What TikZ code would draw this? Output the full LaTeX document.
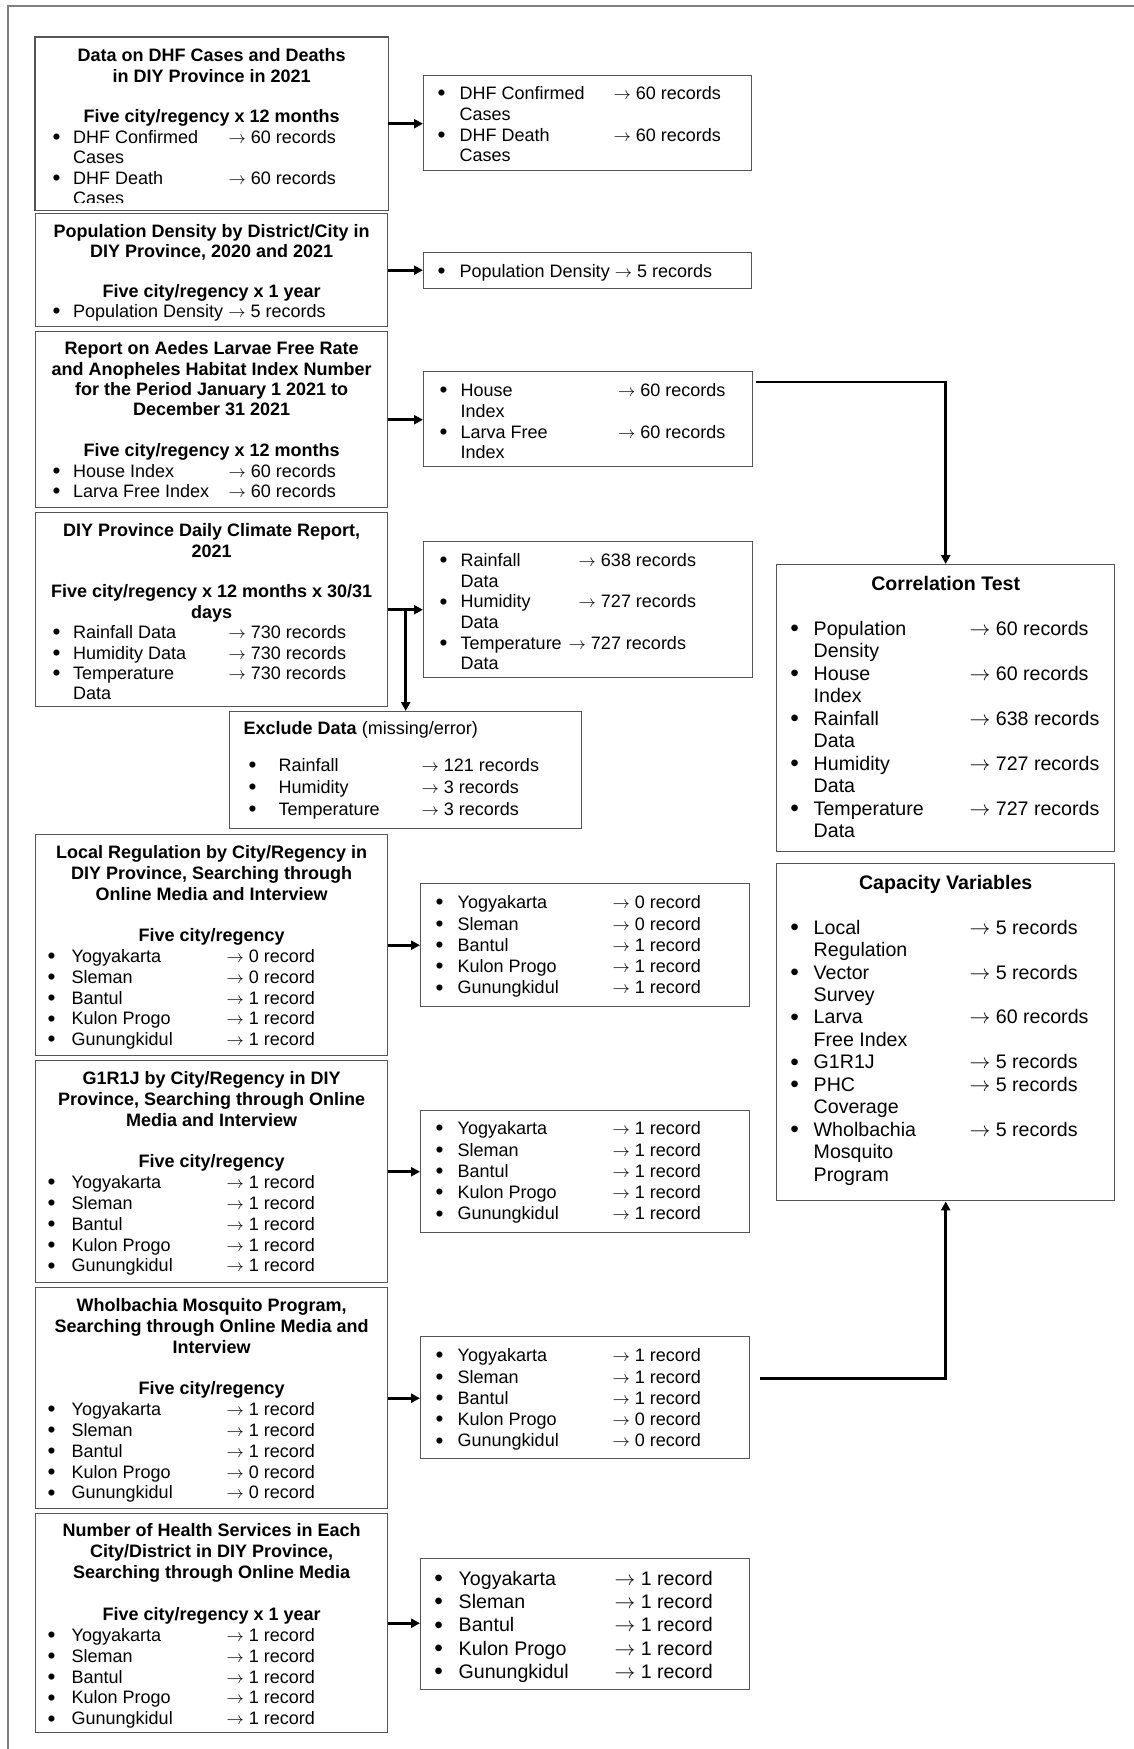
\documentclass[tikz,border=0pt]{standalone}
\usepackage{fontspec}
\usepackage{graphicx}
\setmainfont{Liberation Sans}
\usetikzlibrary{arrows.meta}
\definecolor{boxgray}{RGB}{85,85,85}
\definecolor{framegray}{RGB}{128,128,128}
\tikzset{
    srcbox/.style={draw=boxgray, line width=1.4pt, inner sep=0pt, anchor=north west},
    flow/.style={-{Triangle[length=9pt,width=9pt]}, line width=2.8pt}
}
\newlength\bulx
\newlength\namx
\newlength\arrx
\newcommand{\setcols}[3]{\setlength\bulx{#1pt}\setlength\namx{#2pt}\setlength\arrx{#3pt}}
\newcommand{\fsz}[2]{\fontsize{#1pt}{#2pt}\selectfont}
\newcommand{\basefirst}[1]{\rule{0pt}{#1pt}}
\newcommand{\dotmark}{\raisebox{-0.07em}{\scalebox{1.25}{\textbullet}}}
\newcommand{\ra}{$\rightarrow$}
\newcommand{\boxtext}[3]{\begin{minipage}[t][#2pt][t]{#1pt}#3\end{minipage}}
\newcommand{\rowitem}[2]{\par\noindent\hspace*{\bulx}\makebox[\dimexpr\namx-\bulx\relax][l]{\dotmark}\makebox[\dimexpr\arrx-\namx\relax][l]{#1}#2\par}
\newcommand{\rowmore}[1]{\par\noindent\hspace*{\namx}#1\par}
\newcommand{\rowtext}[1]{\par\noindent\hspace*{\bulx}\makebox[\dimexpr\namx-\bulx\relax][l]{\dotmark}#1\par}
\newcommand{\boxtitle}[1]{{\centering\bfseries #1\par}}

\begin{document}
\begin{tikzpicture}[x=1pt,y=-1pt]
    \useasboundingbox (0,0) rectangle (1134,1749);
    % page frame
    \draw[framegray, line width=1.2pt] (8,1749) -- (8,6) -- (1134,6);

    % data sources (left column)
    \begin{scope}
        \clip (30,30) rectangle (395,202);
        \node[srcbox, draw=none] (dhf) at (35,37) {\boxtext{352}{172}{\fsz{18}{20.4}\setcols{17}{37.5}{193}%
            \boxtitle{\basefirst{24}Data on DHF Cases and Deaths\\ in DIY Province in 2021}
            \vspace{\baselineskip}
            \boxtitle{Five city/regency x 12 months}
            \rowitem{DHF Confirmed}{\ra\ 60 records}
            \rowmore{Cases}
            \rowitem{DHF Death}{\ra\ 60 records}
            \rowmore{Cases}}};
    \end{scope}
    \draw[boxgray, line width=1.4pt] (dhf.north west) rectangle (dhf.south east);

    \node[srcbox] (density) at (35,213) {\boxtext{352}{113}{\fsz{18}{20}\setcols{17}{37.5}{193}%
        \boxtitle{\basefirst{23.7}Population Density by District/City in\\ DIY Province, 2020 and 2021}
        \vspace{\baselineskip}
        \boxtitle{Five city/regency x 1 year}
        \rowtext{Population Density \ra\ 5 records}}};

    \node[srcbox] (larvae) at (35,331) {\boxtext{352}{176}{\fsz{18}{20.4}\setcols{17}{37.5}{193}%
        \boxtitle{\basefirst{23}Report on Aedes Larvae Free Rate\\ and Anopheles Habitat Index Number\\ for the Period January 1 2021 to\\ December 31 2021}
        \vspace{\baselineskip}
        \boxtitle{Five city/regency x 12 months}
        \rowitem{House Index}{\ra\ 60 records}
        \rowitem{Larva Free Index}{\ra\ 60 records}}};

    \node[srcbox] (climate) at (35,512) {\boxtext{352}{194}{\fsz{18}{20.4}\setcols{17}{37.5}{193}%
        \boxtitle{\basefirst{24}DIY Province Daily Climate Report,\\ 2021}
        \vspace{\baselineskip}
        \boxtitle{Five city/regency x 12 months x 30/31\\ days}
        \rowitem{Rainfall Data}{\ra\ 730 records}
        \rowitem{Humidity Data}{\ra\ 730 records}
        \rowitem{Temperature}{\ra\ 730 records}
        \rowmore{Data}}};

    \node[srcbox] (regulation) at (35,834) {\boxtext{352}{221}{\fsz{18}{20.8}\setcols{12}{36}{191}%
        \boxtitle{\basefirst{23.7}Local Regulation by City/Regency in\\ DIY Province, Searching through\\ Online Media and Interview}
        \vspace{\baselineskip}
        \boxtitle{Five city/regency}
        \rowitem{Yogyakarta}{\ra\ 0 record}
        \rowitem{Sleman}{\ra\ 0 record}
        \rowitem{Bantul}{\ra\ 1 record}
        \rowitem{Kulon Progo}{\ra\ 1 record}
        \rowitem{Gunungkidul}{\ra\ 1 record}}};

    \node[srcbox] (g1r1j) at (35,1060) {\boxtext{352}{222}{\fsz{18}{20.8}\setcols{12}{36}{191}%
        \boxtitle{\basefirst{24}G1R1J by City/Regency in DIY\\ Province, Searching through Online\\ Media and Interview}
        \vspace{\baselineskip}
        \boxtitle{Five city/regency}
        \rowitem{Yogyakarta}{\ra\ 1 record}
        \rowitem{Sleman}{\ra\ 1 record}
        \rowitem{Bantul}{\ra\ 1 record}
        \rowitem{Kulon Progo}{\ra\ 1 record}
        \rowitem{Gunungkidul}{\ra\ 1 record}}};

    \node[srcbox] (wolb) at (35,1287) {\boxtext{352}{221}{\fsz{18}{20.8}\setcols{12}{36}{191}%
        \boxtitle{\basefirst{24}Wholbachia Mosquito Program,\\ Searching through Online Media and\\ Interview}
        \vspace{\baselineskip}
        \boxtitle{Five city/regency}
        \rowitem{Yogyakarta}{\ra\ 1 record}
        \rowitem{Sleman}{\ra\ 1 record}
        \rowitem{Bantul}{\ra\ 1 record}
        \rowitem{Kulon Progo}{\ra\ 0 record}
        \rowitem{Gunungkidul}{\ra\ 0 record}}};

    \node[srcbox] (health) at (35,1513) {\boxtext{352}{219}{\fsz{18}{20.9}\setcols{12}{36}{191}%
        \boxtitle{\basefirst{23}Number of Health Services in Each\\ City/District in DIY Province,\\ Searching through Online Media}
        \vspace{\baselineskip}
        \boxtitle{Five city/regency x 1 year}
        \rowitem{Yogyakarta}{\ra\ 1 record}
        \rowitem{Sleman}{\ra\ 1 record}
        \rowitem{Bantul}{\ra\ 1 record}
        \rowitem{Kulon Progo}{\ra\ 1 record}
        \rowitem{Gunungkidul}{\ra\ 1 record}}};

    % records kept (middle column)
    \node[srcbox] (dhfRec) at (423,75) {\boxtext{328}{95}{\fsz{18}{20.7}\setcols{14}{36}{190}%
        \rowitem{\basefirst{24}DHF Confirmed}{\ra\ 60 records}
        \rowmore{Cases}
        \rowitem{DHF Death}{\ra\ 60 records}
        \rowmore{Cases}}};

    \node[srcbox] (densityRec) at (423,252) {\boxtext{328}{36}{\fsz{18}{20.7}\setcols{14}{36}{190}%
        \rowtext{\basefirst{25}Population Density \ra\ 5 records}}};

    \node[srcbox] (larvaeRec) at (423,371) {\boxtext{329}{95}{\fsz{18}{20.7}\setcols{16}{37}{194.5}%
        \rowitem{\basefirst{25}House}{\ra\ 60 records}
        \rowmore{Index}
        \rowitem{Larva Free}{\ra\ 60 records}
        \rowmore{Index}}};

    \node[srcbox] (climateRec) at (423,541) {\boxtext{329}{136}{\fsz{18}{20.6}\setcols{16}{37}{155}%
        \rowitem{\basefirst{25}Rainfall}{\ra\ 638 records}
        \rowmore{Data}
        \rowitem{Humidity}{\ra\ 727 records}
        \rowmore{Data}
        \rowtext{\makebox[108pt][l]{Temperature}\ra\ 727 records}
        \rowmore{Data}}};

    \node[srcbox] (exclude) at (229,711) {\boxtext{352}{117}{\fsz{18}{22}\setcols{19}{49}{192}%
        \noindent\hspace*{14pt}\basefirst{23}\textbf{Exclude Data} (missing/error)\par
        \vspace{15pt}
        \rowitem{Rainfall}{\ra\ 121 records}
        \rowitem{Humidity}{\ra\ 3 records}
        \rowitem{Temperature}{\ra\ 3 records}}};

    \node[srcbox] (regulationRec) at (420,883) {\boxtext{329}{123}{\fsz{18}{21.3}\setcols{15}{37}{192}%
        \rowitem{\basefirst{25}Yogyakarta}{\ra\ 0 record}
        \rowitem{Sleman}{\ra\ 0 record}
        \rowitem{Bantul}{\ra\ 1 record}
        \rowitem{Kulon Progo}{\ra\ 1 record}
        \rowitem{Gunungkidul}{\ra\ 1 record}}};

    \node[srcbox] (g1r1jRec) at (420,1110) {\boxtext{329}{122}{\fsz{18}{21.3}\setcols{15}{37}{192}%
        \rowitem{\basefirst{24}Yogyakarta}{\ra\ 1 record}
        \rowitem{Sleman}{\ra\ 1 record}
        \rowitem{Bantul}{\ra\ 1 record}
        \rowitem{Kulon Progo}{\ra\ 1 record}
        \rowitem{Gunungkidul}{\ra\ 1 record}}};

    \node[srcbox] (wolbRec) at (420,1336) {\boxtext{329}{122}{\fsz{18}{21.3}\setcols{15}{37}{192}%
        \rowitem{\basefirst{25}Yogyakarta}{\ra\ 1 record}
        \rowitem{Sleman}{\ra\ 1 record}
        \rowitem{Bantul}{\ra\ 1 record}
        \rowitem{Kulon Progo}{\ra\ 0 record}
        \rowitem{Gunungkidul}{\ra\ 0 record}}};

    \node[srcbox] (healthRec) at (420,1558) {\boxtext{329}{131}{\fsz{19.6}{23.3}\setcols{13.6}{38}{194}%
        \rowitem{\basefirst{26.5}Yogyakarta}{\ra\ 1 record}
        \rowitem{Sleman}{\ra\ 1 record}
        \rowitem{Bantul}{\ra\ 1 record}
        \rowitem{Kulon Progo}{\ra\ 1 record}
        \rowitem{Gunungkidul}{\ra\ 1 record}}};

    % analysis (right column)
    \node[srcbox] (corr) at (776,564) {\boxtext{338}{287}{\fsz{19.6}{22.5}\setcols{13.6}{37}{193}%
        \boxtitle{\basefirst{25.5}Correlation Test}
        \vspace{\baselineskip}
        \rowitem{Population}{\ra\ 60 records}
        \rowmore{Density}
        \rowitem{House}{\ra\ 60 records}
        \rowmore{Index}
        \rowitem{Rainfall}{\ra\ 638 records}
        \rowmore{Data}
        \rowitem{Humidity}{\ra\ 727 records}
        \rowmore{Data}
        \rowitem{Temperature}{\ra\ 727 records}
        \rowmore{Data}}};

    \node[srcbox] (capacity) at (776,863) {\boxtext{338}{337}{\fsz{19.6}{22.45}\setcols{13.6}{37}{193}%
        \boxtitle{\basefirst{25.5}Capacity Variables}
        \vspace{\baselineskip}
        \rowitem{Local}{\ra\ 5 records}
        \rowmore{Regulation}
        \rowitem{Vector}{\ra\ 5 records}
        \rowmore{Survey}
        \rowitem{Larva}{\ra\ 60 records}
        \rowmore{Free Index}
        \rowitem{G1R1J}{\ra\ 5 records}
        \rowitem{PHC}{\ra\ 5 records}
        \rowmore{Coverage}
        \rowitem{Wholbachia}{\ra\ 5 records}
        \rowmore{Mosquito}
        \rowmore{Program}}};

    % connectors
    \draw[flow] (dhf.east) -- (dhf.east -| dhfRec.west);
    \draw[flow] (density.east) -- (density.east -| densityRec.west);
    \draw[flow] (larvae.east) -- (larvae.east -| larvaeRec.west);
    \draw[flow] (climate.east) -- (climate.east -| climateRec.west);
    \draw[flow] (climate.east -| exclude.north) -- (exclude.north);
    \draw[flow] (regulation.east) -- (regulation.east -| regulationRec.west);
    \draw[flow] (g1r1j.east) -- (g1r1j.east -| g1r1jRec.west);
    \draw[flow] (wolb.east) -- (wolb.east -| wolbRec.west);
    \draw[flow] (health.east) -- (health.east -| healthRec.west);
    \draw[flow] ([xshift=3pt,yshift=-11pt]larvaeRec.north east) -| (corr.north);
    \draw[flow] ([xshift=10pt,yshift=19pt]wolbRec.east) -| (capacity.south);
\end{tikzpicture}
\end{document}
